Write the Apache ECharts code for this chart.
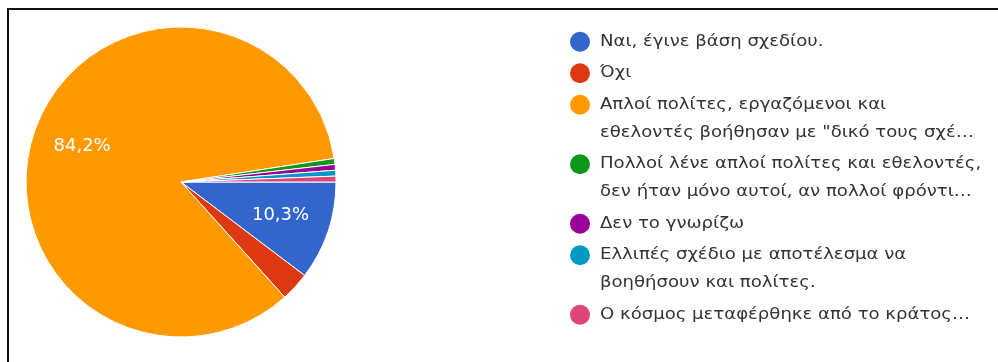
<!DOCTYPE html>
<html>
<head>
<meta charset="utf-8">
<script src="https://cdn.jsdelivr.net/npm/echarts@6/dist/echarts.min.js"></script>
<style>
  html, body { margin: 0; padding: 0; background: #fff; }
  #chart { width: 998px; height: 362px; }
</style>
</head>
<body>
<div id="chart"></div>
<script>
// Answer options (as displayed, line by line)
const categories = [
  ['Ναι, έγινε βάση σχεδίου.'],
  ['Όχι'],
  ['Απλοί πολίτες, εργαζόμενοι και', 'εθελοντές βοήθησαν με "δικό τους σχέ…'],
  ['Πολλοί λένε απλοί πολίτες και εθελοντές,', 'δεν ήταν μόνο αυτοί, αν πολλοί φρόντι…'],
  ['Δεν το γνωρίζω'],
  ['Ελλιπές σχέδιο με αποτέλεσμα να', 'βοηθήσουν και πολίτες.'],
  ['Ο κόσμος μεταφέρθηκε από το κράτος…']
];
// Number of responses per option
const responses = [17, 5, 139, 1, 1, 1, 1];
const palette = ['#3366cc', '#dc3912', '#ff9900', '#109618', '#990099', '#0099c6', '#dd4477'];

const total = responses.reduce((a, b) => a + b, 0);
const names = categories.map(c => c.join(' '));
const fontFamily = '"DejaVu Sans", Verdana, sans-serif';

const pieData = responses.map((v, i) => ({
  name: names[i],
  value: v,
  itemStyle: { color: palette[i] }
}));

const pctText = v => {
  const p = v / total * 100;
  return p >= 5 ? p.toFixed(1).replace('.', ',') + '%' : '';
};

// Legend: coloured dot + wrapped text for each option
const legendItems = [];
const legendX = 580;
const lineH = 28;
const itemStep = 31.5;
let y = 41.7;
categories.forEach((lines, i) => {
  legendItems.push({
    type: 'circle',
    shape: { cx: legendX, cy: y, r: 10 },
    style: { fill: palette[i] },
    silent: true
  });
  legendItems.push({
    type: 'text',
    x: legendX + 20,
    y: y - lineH / 2,
    scaleX: 1.13,
    style: {
      text: lines.join('\n'),
      font: '16px ' + fontFamily,
      fill: '#333333',
      lineHeight: lineH,
      verticalAlign: 'top',
      align: 'left'
    },
    silent: true
  });
  y += itemStep + (lines.length - 1) * lineH;
});

const chart = echarts.init(document.getElementById('chart'), null, { renderer: 'canvas' });
chart.setOption({
  animation: false,
  backgroundColor: '#ffffff',
  graphic: [
    { type: 'rect', shape: { x: 7, y: 8, width: 991, height: 2 }, style: { fill: '#111' }, silent: true },
    { type: 'rect', shape: { x: 7, y: 8, width: 2, height: 354 }, style: { fill: '#111' }, silent: true },
    ...legendItems
  ],
  series: [
    {
      type: 'pie',
      center: [181, 182],
      radius: 155,
      startAngle: 0,
      clockwise: true,
      silent: true,
      avoidLabelOverlap: false,
      data: pieData,
      itemStyle: { borderColor: '#ffffff', borderWidth: 1 },
      label: { show: false },
      labelLine: { show: false },
      emphasis: { disabled: true }
    },
    {
      // transparent ring carrying the percentage labels at about two thirds of the radius
      type: 'pie',
      center: [181, 182],
      radius: 204,
      startAngle: 0,
      clockwise: true,
      silent: true,
      avoidLabelOverlap: false,
      data: responses.map((v, i) => ({ name: names[i], value: v })),
      itemStyle: { color: 'rgba(0,0,0,0)', borderWidth: 0 },
      label: {
        show: true,
        position: 'inside',
        formatter: p => pctText(p.value),
        color: '#ffffff',
        fontSize: 18,
        fontFamily: fontFamily
      },
      labelLine: { show: false },
      emphasis: { disabled: true }
    }
  ]
});
</script>
</body>
</html>
